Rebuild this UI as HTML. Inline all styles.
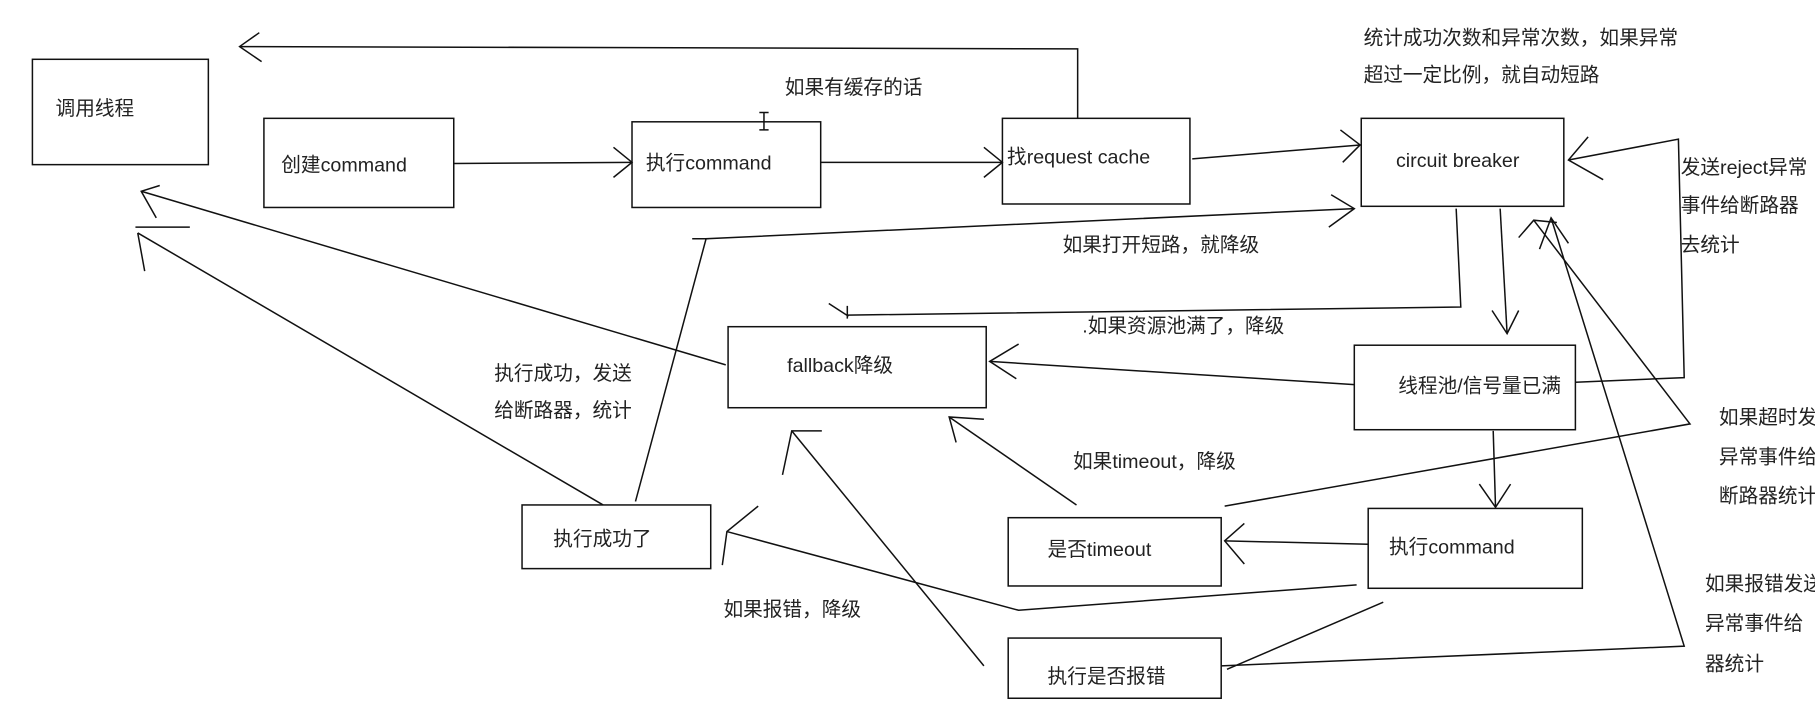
<!DOCTYPE html>
<html><head><meta charset="utf-8"><style>
html,body{margin:0;padding:0;background:#fff;overflow:hidden}
svg{display:block}
text{font-family:"Liberation Sans","Noto Sans CJK SC",sans-serif;font-size:17px;fill:#222}
</style></head><body>
<svg width="1815" height="702" viewBox="0 0 1568 606" xmlns="http://www.w3.org/2000/svg">
<g fill="none" stroke="#111" stroke-width="1.3">
<!-- boxes -->
<rect x="28" y="51" width="152" height="91"/>
<rect x="228" y="102" width="164" height="77"/>
<rect x="546" y="105" width="163" height="74"/>
<rect x="866" y="102" width="162" height="74"/>
<rect x="1176" y="102" width="175" height="76"/>
<rect x="629" y="282" width="223" height="70"/>
<rect x="1170" y="298" width="191" height="73"/>
<rect x="451" y="436" width="163" height="55"/>
<rect x="871" y="447" width="184" height="59"/>
<rect x="1182" y="439" width="185" height="69"/>
<rect x="871" y="551" width="184" height="52"/>
<!-- top return -->
<polyline points="931,102 931,42 207,40"/>
<polyline points="224,28 207,40 226,53"/>
<!-- I-beam -->
<path d="M660,97 V112 M656,97 H664 M656,112 H664"/>
<!-- create -> exec -->
<line x1="392" y1="141" x2="546" y2="140"/><polyline points="530,127 546,140 530,153"/>
<line x1="709" y1="140" x2="866" y2="140"/><polyline points="850,127 866,140 850,153"/>
<line x1="1030" y1="137" x2="1175" y2="125"/><polyline points="1158,112 1175,125 1160,140"/>
<!-- CB -> fallback -->
<polyline points="1258,180 1262,265 732,272"/><path d="M716,262 L733,273 M732,264 V275"/>
<!-- CB -> pool -->
<line x1="1296" y1="180" x2="1302" y2="288"/><polyline points="1289,268 1302,288 1312,268"/>
<!-- pool -> fallback -->
<line x1="1170" y1="332" x2="855" y2="312"/><polyline points="880,297 855,312 878,327"/>
<!-- pool -> CB reject -->
<polyline points="1361,330 1455,326 1450,120 1355,138"/><polyline points="1372,118 1355,138 1385,155"/>
<!-- pool -> exec -->
<line x1="1290" y1="372" x2="1292" y2="438"/><polyline points="1278,418 1292,438 1305,418"/>
<!-- exec -> timeout -->
<line x1="1182" y1="470" x2="1058" y2="467"/><polyline points="1075,452 1058,467 1075,487"/>
<!-- timeout -> CB -->
<polyline points="1058,437 1460,366 1325,190"/><polyline points="1312,205 1325,190 1345,192"/>
<!-- error -> CB -->
<polyline points="1055,575 1455,558 1340,188"/><polyline points="1330,215 1340,188 1355,210"/>
<!-- exec -> error -->
<line x1="1195" y1="520" x2="1060" y2="578"/>
<!-- exec -> success -->
<polyline points="1172,505 880,527 628,459"/><polyline points="655,437 628,459 624,488"/>
<!-- timeout -> fallback -->
<line x1="930" y1="436" x2="820" y2="360"/><polyline points="850,362 820,360 826,382"/>
<!-- error -> fallback -->
<line x1="850" y1="575" x2="684" y2="372"/><polyline points="710,372 684,372 676,410"/>
<!-- fallback -> caller -->
<line x1="627" y1="315" x2="122" y2="165"/><polyline points="138,160 122,165 135,188"/>
<!-- success -> caller -->
<line x1="521" y1="436" x2="119" y2="201"/><path d="M117,196 H164 M119,201 L125,234"/>
<!-- success -> CB -->
<polyline points="549,433 610,206 1170,180"/><path d="M598,206 H612"/><polyline points="1150,168 1170,180 1148,196"/>
</g>
<g>
<text x="48" y="99">调用线程</text>
<text x="243" y="148">创建command</text>
<text x="558" y="146">执行command</text>
<text x="870" y="141">找request cache</text>
<text x="1206" y="144">circuit breaker</text>
<text x="680" y="321">fallback降级</text>
<text x="1208" y="339">线程池/信号量已满</text>
<text x="478" y="471">执行成功了</text>
<text x="905" y="480">是否timeout</text>
<text x="1200" y="478">执行command</text>
<text x="905" y="590">执行是否报错</text>
<text x="678" y="81">如果有缓存的话</text>
<text x="1178" y="38">统计成功次数和异常次数，如果异常</text>
<text x="1178" y="70">超过一定比例，就自动短路</text>
<text x="918" y="217">如果打开短路，就降级</text>
<text x="935" y="287">.如果资源池满了，降级</text>
<text x="427" y="328">执行成功，发送</text>
<text x="427" y="360">给断路器，统计</text>
<text x="927" y="404">如果timeout，降级</text>
<text x="625" y="532">如果报错，降级</text>
<text x="1452" y="150">发送reject异常</text>
<text x="1452" y="183">事件给断路器</text>
<text x="1452" y="217">去统计</text>
<text x="1485" y="366">如果超时发送</text>
<text x="1485" y="400">异常事件给</text>
<text x="1485" y="434">断路器统计</text>
<text x="1473" y="510">如果报错发送</text>
<text x="1473" y="544">异常事件给</text>
<text x="1473" y="579">器统计</text>
</g>
</svg>
</body></html>
